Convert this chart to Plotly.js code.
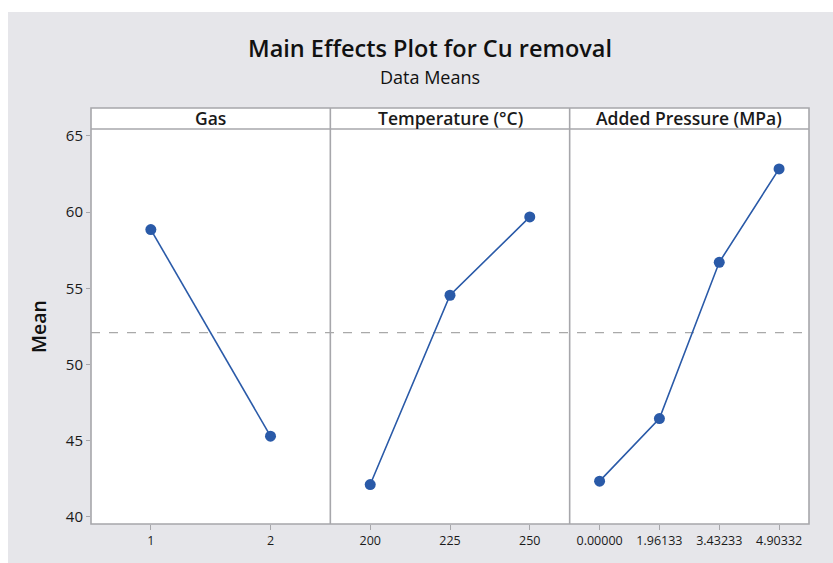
<!DOCTYPE html>
<html><head><meta charset="utf-8">
<script src="https://cdn.plot.ly/plotly-3.0.1.min.js"></script>
<style>
html,body{margin:0;padding:0;background:#ffffff;}
#chart{position:absolute;left:8px;top:12px;width:825px;height:551px;}
</style></head>
<body><div id="chart"></div>
<script>
const gasLevels = ["1", "2"];
const gasMeans = [58.86, 45.30];
const tempLevels = ["200", "225", "250"];
const tempMeans = [42.13, 54.55, 59.69];
const pressLevels = ["0.00000", "1.96133", "3.43233", "4.90332"];
const pressMeans = [42.35, 46.46, 56.71, 62.84];
const panelTitles = ["Gas", "Temperature (°C)", "Added Pressure (MPa)"];
const grandMean = 52.1;
const yTicks = [40, 45, 50, 55, 60, 65];

const blue = "#2a5aa8";
const border = "#a7a7ab";
const font = "Open Sans, Noto Sans, sans-serif";
const yTop = 0.9496;

function trace(levels, means, ax) {
  return {x: levels, y: means, xaxis: ax, yaxis: "y", type: "scatter", mode: "lines+markers",
    line: {color: blue, width: 1.6}, marker: {color: blue, size: 11}, hoverinfo: "x+y", showlegend: false};
}
const data = [trace(gasLevels, gasMeans, "x"), trace(tempLevels, tempMeans, "x2"), trace(pressLevels, pressMeans, "x3")];

function xax(levels, d0, d1) {
  return {type: "category", domain: [d0, d1], range: [-0.5, levels.length - 0.5], anchor: "y",
    showgrid: false, zeroline: false, showline: false, ticks: "outside", ticklen: 5, tickwidth: 1,
    tickcolor: border, tickfont: {family: font, size: 12.5, color: "#1a1a1a"}, fixedrange: true};
}
const shapes = [
  {type: "line", xref: "paper", yref: "y", x0: 0, x1: 1, y0: grandMean, y1: grandMean,
   line: {color: "#a9a9a9", width: 1.4, dash: "dash"}, layer: "below"},
  {type: "rect", xref: "paper", yref: "paper", x0: 0, x1: 1, y0: yTop, y1: 1, fillcolor: "#ffffff", line: {width: 0}, layer: "below"},
  {type: "rect", xref: "paper", yref: "paper", x0: 0, x1: 1, y0: 0, y1: 1, line: {color: border, width: 1.6}},
  {type: "line", xref: "paper", yref: "paper", x0: 0, x1: 1, y0: yTop, y1: yTop, line: {color: border, width: 1.6}},
  {type: "line", xref: "paper", yref: "paper", x0: 1/3, x1: 1/3, y0: 0, y1: 1, line: {color: border, width: 1.6}},
  {type: "line", xref: "paper", yref: "paper", x0: 2/3, x1: 2/3, y0: 0, y1: 1, line: {color: border, width: 1.6}}
];
const annotations = panelTitles.map((t, i) => ({
  text: t, xref: "paper", yref: "paper", x: (i + 0.5) / 3, y: (yTop + 1) / 2, xanchor: "center", yanchor: "middle",
  showarrow: false, font: {family: font, size: 17.5, color: "#1a1a1a", weight: 600}
}));
annotations.push({text: "Main Effects Plot for Cu removal", xref: "paper", yref: "paper", x: 0.472, y: 1.144,
  xanchor: "center", yanchor: "middle", showarrow: false, font: {family: font, size: 23.5, color: "#111", weight: 600}});
annotations.push({text: "Data Means", xref: "paper", yref: "paper", x: 0.472, y: 1.075,
  xanchor: "center", yanchor: "middle", showarrow: false, font: {family: font, size: 18, color: "#111", weight: 500}});

const layout = {
  width: 825, height: 551,
  margin: {l: 83, r: 24, t: 96, b: 39},
  paper_bgcolor: "#e6e6ea", plot_bgcolor: "#ffffff",
  showlegend: false,
  xaxis: xax(gasLevels, 0, 1/3),
  xaxis2: xax(tempLevels, 1/3, 2/3),
  xaxis3: xax(pressLevels, 2/3, 1),
  yaxis: {domain: [0, yTop], range: [39.54, 65.46], tickvals: yTicks, ticks: "outside", ticklen: 4,
    tickcolor: border, showgrid: false, zeroline: false, showline: false,
    tickfont: {family: font, size: 15, color: "#1a1a1a"},
    title: {text: "Mean", font: {family: font, size: 19.5, color: "#111", weight: 600}, standoff: 14}, fixedrange: true},
  shapes: shapes, annotations: annotations
};
Plotly.newPlot("chart", data, layout, {displayModeBar: false, staticPlot: true});
</script></body></html>
